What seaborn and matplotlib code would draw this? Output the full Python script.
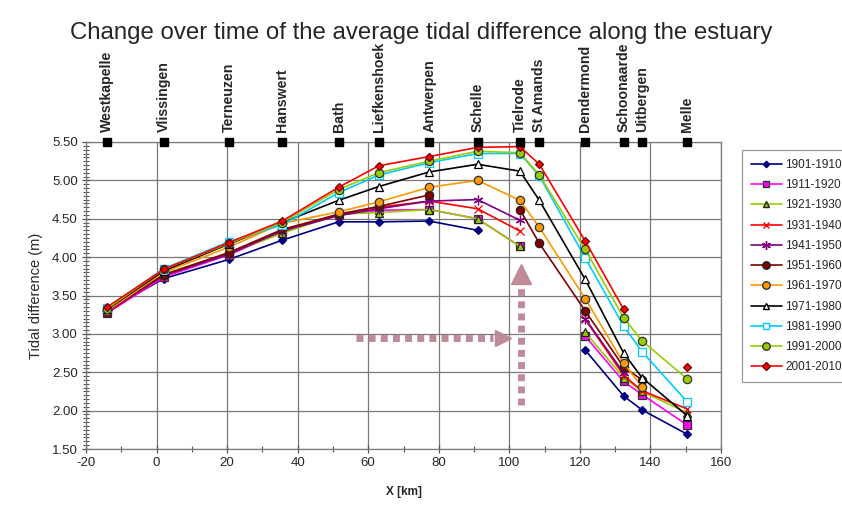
import numpy as np
import pandas as pd
import matplotlib
matplotlib.use("Agg")
import matplotlib.pyplot as plt
from matplotlib.lines import Line2D
from matplotlib.ticker import MultipleLocator, FormatStrFormatter
import seaborn as sns

nan = np.nan
stations = ['Westkapelle', 'Vlissingen', 'Terneuzen', 'Hanswert', 'Bath', 'Liefkenshoek',
            'Antwerpen', 'Schelle', 'Tielrode', 'St Amands', 'Dendermond', 'Schoonaarde',
            'Uitbergen', 'Melle']
station_km = [-14, 2, 20.5, 35.6, 51.6, 63, 77.3, 91, 103, 108.5, 121.5, 132.4, 137.6, 150.5]

periods = ['1901-1910', '1911-1920', '1921-1930', '1931-1940', '1941-1950', '1951-1960',
           '1961-1970', '1971-1980', '1981-1990', '1991-2000', '2001-2010']

v1901 = [3.30, 3.72, 3.97, 4.22, 4.46, 4.46, 4.47, 4.35, nan, nan, 2.79, 2.19, 2.01, 1.69]
v1911 = [3.27, 3.74, 4.03, 4.33, 4.55, 4.61, 4.62, 4.50, 4.14, nan, 2.97, 2.38, 2.21, 1.81]
v1921 = [3.29, 3.78, 4.05, 4.31, 4.56, 4.58, 4.62, 4.50, 4.14, nan, 3.02, 2.43, 2.25, 1.97]
v1931 = [3.28, 3.76, 4.05, 4.35, 4.55, 4.65, 4.73, 4.63, 4.34, nan, 3.19, 2.46, 2.26, 2.02]
v1941 = [3.29, 3.76, 4.04, 4.34, 4.54, 4.63, 4.73, 4.75, 4.48, nan, 3.20, 2.49, nan, nan]
v1951 = [3.31, 3.77, 4.06, 4.36, 4.56, 4.66, 4.81, nan, 4.62, 4.18, 3.30, 2.57, 2.40, nan]
v1961 = [3.30, 3.80, 4.13, 4.44, 4.59, 4.72, 4.91, 5.00, 4.74, 4.39, 3.46, 2.62, 2.31, nan]
v1971 = [3.32, 3.82, 4.17, 4.45, 4.74, 4.92, 5.11, 5.21, 5.12, 4.74, 3.71, 2.75, 2.43, 1.93]
v1981 = [3.34, 3.85, 4.20, 4.42, 4.84, 5.07, 5.23, 5.35, 5.35, 5.06, 3.99, 3.10, 2.77, 2.11]
v1991 = [3.33, 3.84, 4.18, 4.45, 4.88, 5.10, 5.25, 5.38, 5.36, 5.07, 4.10, 3.21, 2.91, 2.41]
v2001 = [3.35, 3.84, 4.19, 4.47, 4.91, 5.19, 5.31, 5.43, 5.44, 5.21, 4.21, 3.32, nan, 2.57]
series = [v1901, v1911, v1921, v1931, v1941, v1951, v1961, v1971, v1981, v1991, v2001]

# style: line color, marker, face color, edge color, size
styles = [
    ('#000080', 'D', '#000080', '#000080', 3.6),
    ('#FF00FF', 's', '#FF00FF', '#333333', 5.2),
    ('#99CC00', '^', '#99CC00', '#222222', 5.2),
    ('#FF0000', 'x', '#FF0000', '#FF0000', 5.5),
    ('#800080', (6, 2, 0), '#800080', '#800080', 7),
    ('#800000', 'o', '#800000', '#222222', 6),
    ('#FF9900', 'o', '#FF9900', '#333333', 6),
    ('#000000', '^', '#FFFFFF', '#000000', 5.5),
    ('#00CCFF', 's', '#FFFFFF', '#00CCFF', 5.5),
    ('#99CC00', 'o', '#99CC00', '#333333', 6),
    ('#FF0000', 'D', '#FF0000', '#660000', 4),
]

rows = []
for p, vals in zip(periods, series):
    seg = 0
    prev_nan = True
    for k, v in zip(station_km, vals):
        if np.isnan(v):
            prev_nan = True
            continue
        if prev_nan:
            seg += 1
            prev_nan = False
        rows.append({'period': p, 'km': k, 'value': v, 'seg': seg})
df = pd.DataFrame(rows)

sns.set_theme(style='white')
plt.rcParams['font.family'] = ['Liberation Sans', 'DejaVu Sans']
plt.rcParams['axes.unicode_minus'] = False

fig = plt.figure(figsize=(8.42, 5.08), dpi=100)
ax = fig.add_axes([86 / 842, 1 - 449 / 508, 635 / 842, 307 / 508])

for p, (c, m, fc, ec, ms) in zip(periods, styles):
    sub = df[df['period'] == p]
    sns.lineplot(data=sub, x='km', y='value', units='seg', estimator=None, ax=ax,
                 color=c, lw=1.2, marker=m, markerfacecolor=fc, markeredgecolor=ec,
                 markersize=ms, markeredgewidth=0.9, legend=False, zorder=3)

# station markers on top
ax.plot(station_km, [5.5] * len(station_km), ls='none', marker='s', color='black',
        markersize=6, clip_on=False, zorder=5)
for name, k in zip(stations, station_km):
    ax.annotate(name, xy=(k, 5.5), xytext=(0, 7), textcoords='offset points',
                rotation=90, ha='center', va='bottom', fontsize=10.2, fontweight='bold',
                annotation_clip=False)

ax.set_xlim(-20, 160)
ax.set_ylim(1.5, 5.5)
ax.xaxis.set_major_locator(MultipleLocator(20))
ax.xaxis.set_minor_locator(MultipleLocator(10))
ax.yaxis.set_major_locator(MultipleLocator(0.5))
ax.yaxis.set_minor_locator(MultipleLocator(0.05))
ax.yaxis.set_major_formatter(FormatStrFormatter('%.2f'))
ax.grid(True, which='major', color='#7a7a7a', lw=0.9)
for s in ax.spines.values():
    s.set_color('#7a7a7a')
    s.set_linewidth(0.9)
ax.tick_params(axis='both', which='major', direction='inout', length=6, width=0.9,
               color='#555555', labelsize=9.5, left=True, bottom=True, pad=3)
ax.tick_params(axis='both', which='minor', direction='inout', length=4, width=0.8,
               color='#555555', left=True, bottom=True)
ax.set_xlabel('X [km]', fontsize=8.5, fontweight='bold', labelpad=12)
ax.set_ylabel('Tidal difference (m)', fontsize=10.5, labelpad=6)

# annotation arrows
acol = '#BE8C98'
ax.plot([56.5, 95.5], [2.94, 2.94], color=acol, lw=5, ls=(0, (1.0, 0.75)),
        solid_capstyle='butt', dash_capstyle='butt', zorder=2)
ax.plot([98.3], [2.94], marker='>', color=acol, markersize=12, ls='none', zorder=2)
ax.plot([103.2, 103.2], [2.07, 3.65], color=acol, lw=5, ls=(0, (1.0, 0.75)),
        solid_capstyle='butt', dash_capstyle='butt', zorder=2)
ax.plot([103.2], [3.78], marker='^', color=acol, markersize=14, ls='none', zorder=2)

fig.text(0.5, 1 - 33 / 508, 'Change over time of the average tidal difference along the estuary',
         ha='center', va='center', fontsize=17.3)

handles = [Line2D([0], [0], color=c, lw=1.2, marker=m, markerfacecolor=fc,
                  markeredgecolor=ec, markersize=ms * 0.9)
           for (c, m, fc, ec, ms) in styles]
leg = fig.legend(handles, periods, loc='upper left', bbox_to_anchor=(742 / 842, 1 - 150 / 508),
                 fontsize=8.5, frameon=True, fancybox=False, edgecolor='#808080',
                 handlelength=2.6, handletextpad=0.3, labelspacing=0.70, borderpad=0.75,
                 borderaxespad=0)
leg.get_frame().set_linewidth(0.9)

fig.savefig('out.png', dpi=100)
